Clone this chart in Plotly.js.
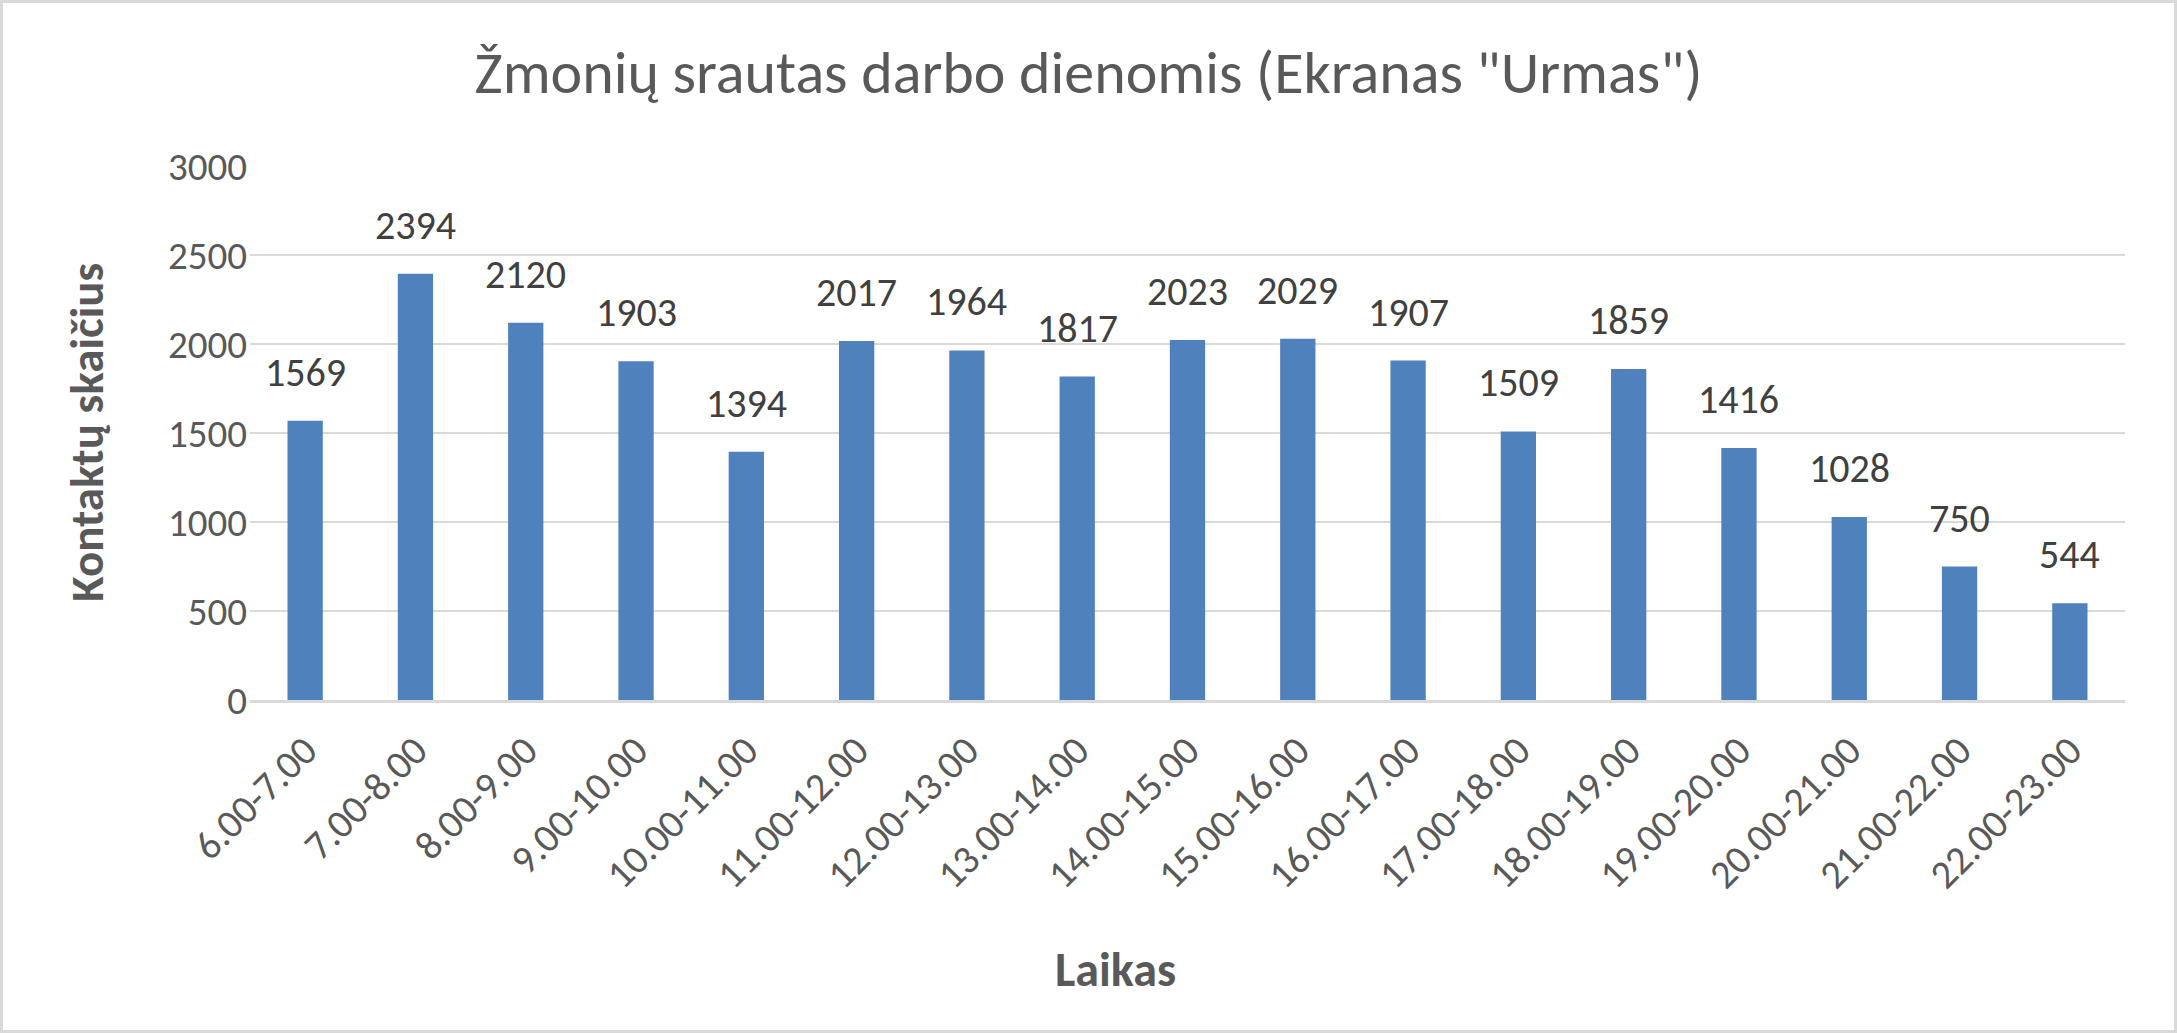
<!DOCTYPE html>
<html>
<head>
<meta charset="utf-8">
<script src="https://cdn.plot.ly/plotly-3.0.1.min.js"></script>
<style>
  html, body { margin: 0; padding: 0; background: #fff; }
  #wrap { position: relative; width: 2177px; height: 1033px; }
  #chart { width: 2177px; height: 1033px; }
  #frame { position: absolute; left: 0; top: 0; width: 2177px; height: 1033px; box-sizing: border-box; border: 3px solid #d9d9d9; pointer-events: none; }
</style>
</head>
<body>
<div id="wrap"><div id="chart"></div><div id="frame"></div></div>
<script>
const categories = ["6.00-7.00", "7.00-8.00", "8.00-9.00", "9.00-10.00", "10.00-11.00", "11.00-12.00",
  "12.00-13.00", "13.00-14.00", "14.00-15.00", "15.00-16.00", "16.00-17.00", "17.00-18.00",
  "18.00-19.00", "19.00-20.00", "20.00-21.00", "21.00-22.00", "22.00-23.00"];
const values = [1569, 2394, 2120, 1903, 1394, 2017, 1964, 1817, 2023, 2029, 1907, 1509, 1859, 1416, 1028, 750, 544];
const yTicks = [0, 500, 1000, 1500, 2000, 2500, 3000];
const chartTitle = 'Žmonių srautas darbo dienomis (Ekranas "Urmas")';
const xTitle = "Laikas";
const yTitle = "Kontaktų skaičius";

const FONT = "Carlito, Calibri, Lato, 'Open Sans', sans-serif";

const trace = {
  type: "bar",
  x: categories,
  y: values,
  marker: { color: "#4f81bd" },
  hoverinfo: "x+y",
  showlegend: false
};

const labelAnns = categories.map((c, i) => ({
  x: c, y: values[i], xref: "x", yref: "y",
  text: String(values[i]), showarrow: false,
  yanchor: "bottom", yshift: 22,
  font: { family: FONT, size: 40, color: "#404040" }
}));

const layout = {
  width: 2177, height: 1033,
  margin: { l: 250, r: 52, t: 166, b: 333 },
  paper_bgcolor: "#ffffff", plot_bgcolor: "#ffffff",
  bargap: 0.68,
  font: { family: FONT, color: "#595959" },
  title: {
    text: chartTitle,
    x: 0.5, xref: "container", xanchor: "center",
    y: 1 - 72 / 1033, yref: "container", yanchor: "middle",
    font: { family: FONT, size: 60, color: "#595959" }
  },
  xaxis: {
    type: "category",
    tickangle: -45,
    tickfont: { family: FONT, size: 40, color: "#595959" },
    showgrid: false,
    showline: true, linecolor: "#d9d9d9", linewidth: 3,
    ticks: "", ticklabelstandoff: 8,
    zeroline: false
  },
  yaxis: {
    range: [0, 3000],
    tickvals: yTicks,
    ticktext: yTicks.map(String),
    tickfont: { family: FONT, size: 39, color: "#595959" },
    showgrid: true, gridcolor: "#d9d9d9", gridwidth: 2,
    zeroline: false, showline: false,
    ticks: "", ticklabelstandoff: 2
  },
  annotations: labelAnns.concat([
    {
      text: "<b>" + xTitle + "</b>", showarrow: false,
      xref: "paper", yref: "paper",
      x: (1115 - 250) / 1875, y: -(969 - 700) / 534,
      xanchor: "center", yanchor: "middle",
      font: { family: FONT, size: 48, color: "#595959" }
    },
    {
      text: "<b>" + yTitle + "</b>", showarrow: false,
      xref: "paper", yref: "paper", textangle: -90,
      x: -(250 - 87) / 1875, y: 0.5,
      xanchor: "center", yanchor: "middle",
      font: { family: FONT, size: 47, color: "#595959" }
    }
  ])
};

Plotly.newPlot("chart", [trace], layout, { displayModeBar: false, responsive: false });
</script>
</body>
</html>
